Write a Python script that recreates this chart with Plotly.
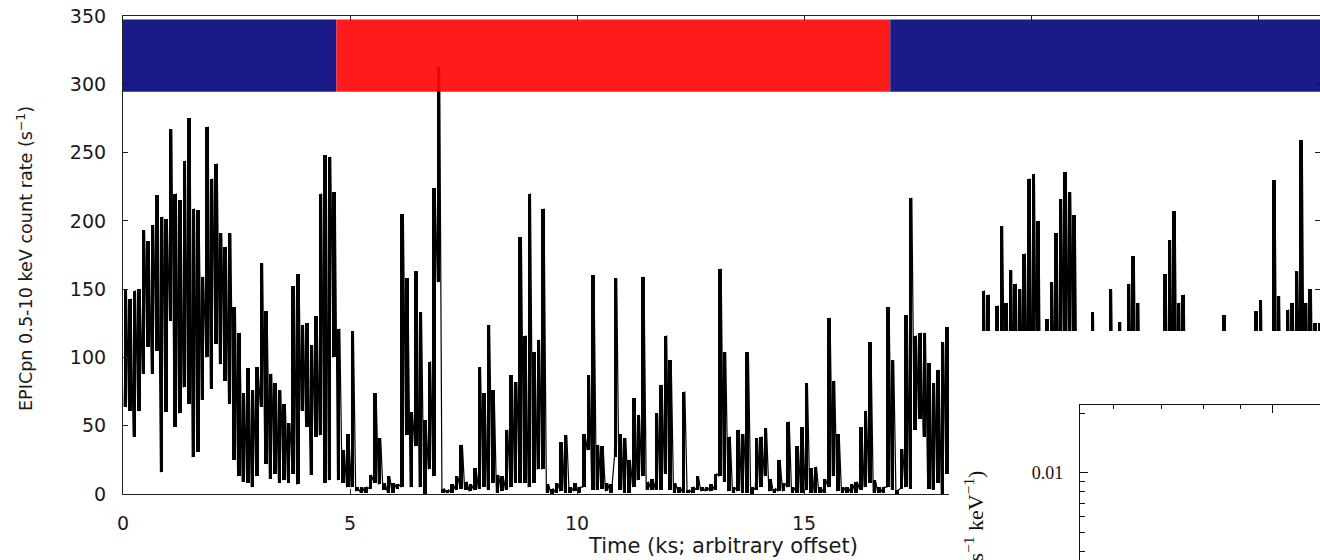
import numpy as np
import plotly.graph_objects as go

# ---------------- data ----------------
BIN_KS = 0.1  # each entry below covers 0.1 ks of the light curve

# highest / lowest count rate seen inside each 0.1 ks interval (s^-1)
rate_max = [
    150, 143, 149, 150, 193, 185, 197, 219, 203, 201,
    267, 220, 215, 244, 275, 209, 208, 159, 269, 231,
    242, 191, 181, 191, 137, 118, 74, 92, 76, 93,
    169, 134, 88, 81, 76, 66, 52, 152, 161, 124,
    125, 109, 130, 220, 248, 247, 221, 121, 32, 44,
    119, 5, 5, 5, 14, 74, 41, 8, 13, 8,
    7, 205, 158, 60, 163, 133, 54, 97, 224, 313,
    4, 3, 7, 13, 36, 9, 7, 19, 93, 74,
    124, 76, 14, 13, 47, 87, 82, 188, 116, 220,
    104, 113, 209, 7, 4, 8, 38, 43, 5, 8,
    5, 44, 87, 160, 36, 35, 8, 7, 158, 44,
    41, 25, 70, 58, 159, 9, 11, 59, 80, 116,
    98, 8, 5, 75, 3, 5, 13, 5, 5, 7,
    15, 165, 104, 42, 5, 47, 44, 104, 5, 41,
    42, 48, 11, 4, 25, 8, 53, 5, 35, 49,
    81, 19, 20, 5, 11, 129, 83, 44, 5, 5,
    7, 9, 49, 61, 111, 10, 5, 5, 137, 98,
    3, 33, 131, 217, 116, 118, 118, 96, 81, 91,
    111, 122, 90, 60, 40, 30, 25, 45, 80, 149,
    146, 90, 138, 196, 140, 164, 154, 150, 176, 231,
    234, 200, 110, 128, 155, 191, 216, 236, 221, 204,
    80, 60, 70, 133, 50, 40, 60, 150, 90, 126,
    70, 154, 174, 140, 60, 40, 30, 50, 80, 161,
    186, 207, 140, 146, 40, 30, 50, 40, 30, 60,
    70, 90, 131, 119, 50, 40, 60, 50, 80, 134,
    142, 60, 100, 230, 145, 80, 135, 140, 163, 259,
    140, 150, 125, 125,
]
rate_min = [
    64, 61, 42, 61, 88, 108, 88, 105, 16, 60,
    127, 49, 59, 78, 66, 27, 31, 69, 100, 77,
    110, 95, 83, 66, 25, 13, 9, 8, 5, 13,
    64, 22, 11, 15, 8, 10, 8, 15, 7, 61,
    49, 14, 42, 43, 8, 10, 100, 10, 8, 5,
    5, 2, 1, 1, 4, 8, 7, 3, 1, 1,
    4, 5, 43, 5, 35, 5, 0, 18, 13, 155,
    1, 1, 1, 3, 4, 3, 2, 3, 4, 5,
    3, 8, 1, 2, 3, 5, 8, 8, 8, 5,
    8, 18, 18, 1, 0, 1, 2, 1, 1, 2,
    1, 5, 32, 3, 3, 4, 2, 1, 27, 3,
    1, 1, 5, 10, 13, 3, 3, 3, 3, 15,
    3, 1, 1, 1, 1, 1, 3, 2, 2, 2,
    3, 13, 9, 2, 1, 2, 1, 1, 0, 3,
    5, 13, 2, 1, 2, 2, 5, 1, 1, 1,
    3, 1, 1, 1, 1, 5, 13, 2, 1, 1,
    1, 1, 3, 5, 8, 1, 1, 1, 5, 3,
    0, 4, 5, 4, 47, 55, 42, 4, 3, 8,
    0, 15, 10, 5, 3, 3, 2, 3, 5, 10,
    8, 5, 20, 30, 40, 30, 20, 40, 50, 60,
    80, 50, 10, 10, 40, 60, 50, 70, 100, 60,
    10, 5, 5, 5, 3, 3, 3, 10, 5, 5,
    3, 10, 20, 10, 3, 3, 3, 3, 3, 20,
    40, 30, 20, 10, 3, 3, 3, 3, 3, 3,
    3, 5, 5, 5, 3, 3, 3, 3, 3, 10,
    10, 5, 5, 20, 10, 5, 10, 30, 40, 60,
    20, 20, 10, 10,
]

# state strip along the top (start ks, end ks, state)
state_start = [0.0, 4.7, 16.9]
state_end = [4.7, 16.9, 26.4]
state_kind = ["low", "high", "low"]

x_ticks = [0, 5, 10, 15, 20, 25]
y_ticks = [0, 50, 100, 150, 200, 250, 300, 350]

# inset spectrum axes (keV, counts s^-1 keV^-1)
inset_x_major = [1.0]
inset_x_minor = [0.6, 0.7, 0.8, 0.9]
inset_y_major = [0.01]
inset_y_minor = [0.004, 0.005, 0.006, 0.007, 0.008, 0.009, 0.02]

# ---------------- figure geometry ----------------
W, H = 1320, 560
LEFT, TOP, BOTTOM = 123, 16, 494
PX_PER_KS = 45.4
X_MAX = (W - LEFT) / PX_PER_KS

STATE_COLORS = {"low": "#06067f", "high": "#ff0808"}

n = len(rate_max)
t = np.arange(n) * BIN_KS
rmax = np.array(rate_max, dtype=float)
rmin = np.array(rate_min, dtype=float)

# each interval: a filled black column spanning its range ...
fig = go.Figure()
fig.add_trace(go.Bar(
    x=t + BIN_KS / 2, base=rmin, y=rmax - rmin, width=BIN_KS * 0.78,
    marker=dict(color="black", line=dict(width=0)),
    hoverinfo="skip", showlegend=False, xaxis="x", yaxis="y"))
# ... joined by the light-curve trace itself
xs = np.column_stack([t + BIN_KS * 0.25, t + BIN_KS * 0.75]).ravel()
ys = np.column_stack([rmin, rmax]).ravel()
fig.add_trace(go.Scatter(
    x=xs, y=ys, mode="lines", line=dict(color="black", width=1.2),
    hoverinfo="skip", showlegend=False, xaxis="x", yaxis="y"))

# white panel that the inset sits on (covers the lower right of the light curve)
fig.add_trace(go.Scatter(
    x=[0, 1, 1, 0, 0], y=[0, 0, 1, 1, 0], mode="lines", fill="toself",
    fillcolor="white", line=dict(width=0, color="white"),
    hoverinfo="skip", showlegend=False, xaxis="x2", yaxis="y2"))

# inset spectrum axes (no data visible in the crop)
fig.add_trace(go.Scatter(x=[None], y=[None], mode="lines", showlegend=False,
                         xaxis="x3", yaxis="y3"))

tickfont = dict(family="DejaVu Sans", size=19, color="#1a1a1a")
axis_common = dict(showline=True, linecolor="#222", linewidth=1.2, mirror="ticks",
                   ticks="inside", ticklen=5, tickcolor="#222", showgrid=False,
                   zeroline=False, tickfont=tickfont, automargin=False)

fig.update_layout(
    template="none",
    width=W, height=H, autosize=False,
    margin=dict(l=0, r=0, t=0, b=0, pad=0),
    paper_bgcolor="white", plot_bgcolor="white",
    showlegend=False, bargap=0,
    xaxis=dict(domain=[LEFT / W, 1], range=[0, X_MAX], tickvals=x_ticks,
               ticklabelstandoff=12, anchor="y", **axis_common),
    yaxis=dict(domain=[(H - BOTTOM) / H, (H - TOP) / H], range=[0, 350],
               tickvals=y_ticks, ticklabelstandoff=12, anchor="x", **axis_common),
    xaxis2=dict(domain=[949 / W, 1], range=[0, 1], visible=False, anchor="y2",
                automargin=False),
    yaxis2=dict(domain=[0, (H - 331) / H], range=[0, 1], visible=False, anchor="x2",
                automargin=False),
    xaxis3=dict(domain=[1080 / W, 1], type="log", range=[-0.269, 0.0656],
                anchor="y3", side="top", showline=True, linecolor="#111",
                linewidth=1.2, mirror=False, ticks="inside", ticklen=8,
                tickcolor="#111", tickvals=inset_x_major, showticklabels=False,
                showgrid=False, zeroline=False, automargin=False,
                minor=dict(tickvals=inset_x_minor, ticks="inside", ticklen=4,
                           tickcolor="#111", showgrid=False)),
    yaxis3=dict(domain=[0, (H - 405) / H], type="log",
                range=[np.log10(0.0036), np.log10(0.0222)],
                anchor="x3", side="left", showline=True, linecolor="#111",
                linewidth=1.2, mirror=False, ticks="inside", ticklen=8,
                tickcolor="#111", tickvals=inset_y_major, ticktext=["0.01"],
                ticklabelstandoff=12, showgrid=False, zeroline=False,
                automargin=False,
                tickfont=dict(family="Liberation Serif", size=18, color="#111"),
                minor=dict(tickvals=inset_y_minor, ticks="inside", ticklen=5,
                           tickcolor="#111", showgrid=False)),
)

for s, e, k in zip(state_start, state_end, state_kind):
    fig.add_shape(type="rect", xref="x", yref="y", x0=s, x1=min(e, X_MAX),
                  y0=294.5, y1=347.5, fillcolor=STATE_COLORS[k], opacity=0.92,
                  line=dict(width=0), layer="above")

fig.add_annotation(xref="paper", yref="paper", x=25 / W, y=1 - 259 / H,
                   text="EPICpn 0.5-10 keV count rate (s<sup>−1</sup>)",
                   textangle=-90, showarrow=False, xanchor="center", yanchor="middle",
                   font=dict(family="DejaVu Sans", size=17.6, color="#1a1a1a"))
fig.add_annotation(xref="paper", yref="paper", x=723 / W, y=1 - 546 / H,
                   text="Time (ks; arbitrary offset)", showarrow=False,
                   xanchor="center", yanchor="middle",
                   font=dict(family="DejaVu Sans", size=21, color="#1a1a1a"))
fig.add_annotation(xref="paper", yref="paper", x=973 / W, y=1 - 468 / H,
                   text="Flux (counts s<sup>−1</sup> keV<sup>−1</sup>)", textangle=-90,
                   showarrow=False, xanchor="center", yanchor="top",
                   font=dict(family="Liberation Serif", size=22, color="#111"))

fig.write_html("out.html")
